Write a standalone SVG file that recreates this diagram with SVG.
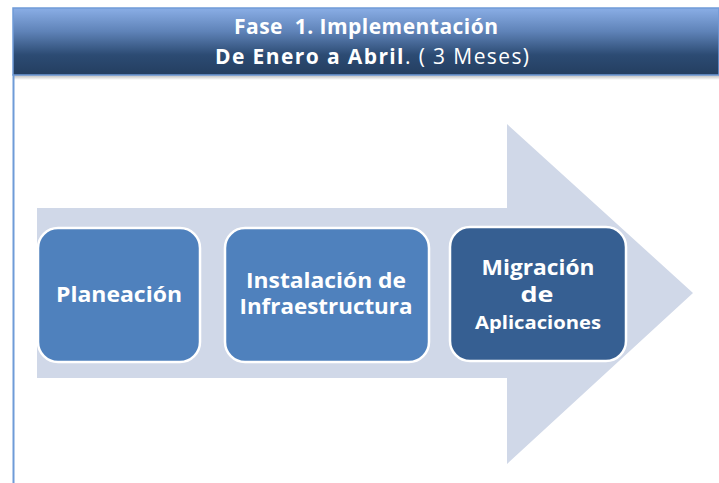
<svg xmlns="http://www.w3.org/2000/svg" width="719" height="483" viewBox="0 0 719 483">
<defs>
<linearGradient id="hdr" x1="0" y1="0" x2="0" y2="1">
<stop offset="0" stop-color="#8AAEE6"/>
<stop offset="0.35" stop-color="#5F83B8"/>
<stop offset="0.7" stop-color="#2C4B73"/>
<stop offset="1" stop-color="#243E60"/>
</linearGradient>
<linearGradient id="shd" x1="0" y1="0" x2="0" y2="1">
<stop offset="0" stop-color="#B8B8B8"/>
<stop offset="1" stop-color="#FFFFFF"/>
</linearGradient>
</defs>
<style>
.box{stroke:#FFFFFF;stroke-width:2.5}
.lbl{font-family:"Open Sans","Liberation Sans",sans-serif;font-weight:bold;fill:#FFFFFF;text-anchor:middle}
.ttl{font-family:"Open Sans","Liberation Sans",sans-serif;fill:#FFFFFF;text-anchor:middle;white-space:pre}
</style>
<rect width="719" height="483" fill="#FFFFFF"/>
<g id="frame">
<rect x="13" y="75" width="706" height="5" fill="url(#shd)"/>
<line x1="13.5" y1="74" x2="13.5" y2="483" stroke="#6F9BD8" stroke-width="2"/>
<rect x="13" y="8" width="706" height="67" fill="url(#hdr)" stroke="#6F9BD8" stroke-width="1.5"/>
</g>
<g id="title">
<text class="ttl" x="366" y="34" font-size="21" font-weight="bold" textLength="264" xml:space="preserve">Fase  1. Implementación</text>
<text class="ttl" x="372" y="64" font-size="21" textLength="314"><tspan font-weight="bold">De Enero a Abril</tspan>. ( 3 Meses)</text>
</g>
<g id="arrow">
<polygon points="37,208 507,208 507,124 693,293 507,464 507,378 37,378" fill="#D0D8E8"/>
</g>
<g id="planeacion">
<rect class="box" x="38" y="228" width="162" height="134" rx="20" fill="#4F81BD"/>
<text class="lbl" x="119" y="302" font-size="21" textLength="126" lengthAdjust="spacingAndGlyphs">Planeación</text>
</g>
<g id="instalacion">
<rect class="box" x="225" y="228" width="204" height="134" rx="20" fill="#4F81BD"/>
<text class="lbl" x="326" y="288" font-size="21" textLength="160" lengthAdjust="spacingAndGlyphs">Instalación de</text>
<text class="lbl" x="326" y="314" font-size="21" textLength="173" lengthAdjust="spacingAndGlyphs">Infraestructura</text>
</g>
<g id="migracion">
<rect class="box" x="450" y="227" width="176" height="134" rx="20" fill="#365F92"/>
<text class="lbl" x="538" y="275" font-size="21" textLength="113" lengthAdjust="spacingAndGlyphs">Migración</text>
<text class="lbl" x="537" y="302" font-size="21" textLength="33" lengthAdjust="spacingAndGlyphs">de</text>
<text class="lbl" x="538" y="329" font-size="18" textLength="126" lengthAdjust="spacingAndGlyphs">Aplicaciones</text>
</g>
<g id="connectors"/>
</svg>
